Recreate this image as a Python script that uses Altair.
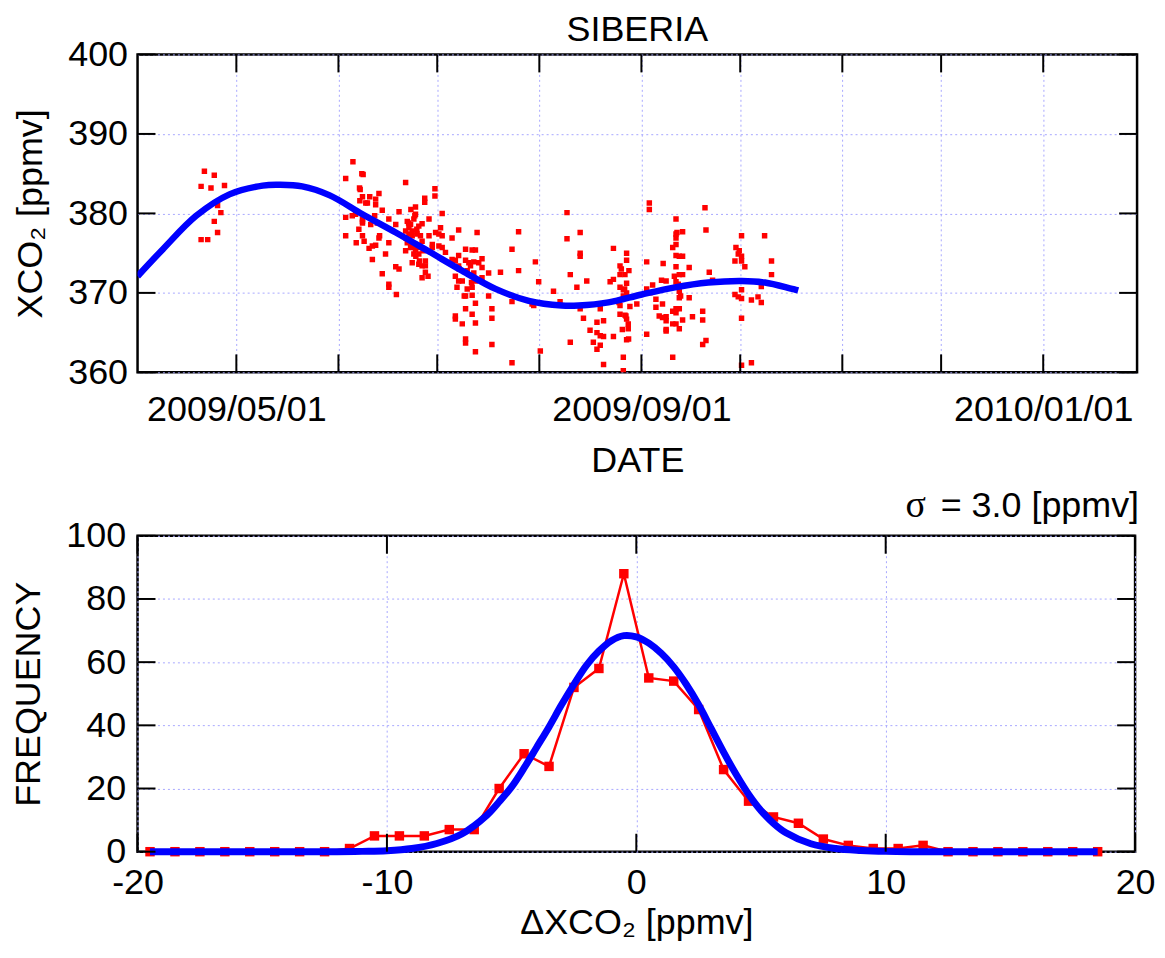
import altair as alt
import pandas as pd

# ---------------- data: top panel (XCO2 time series) ----------------
BASE_DATE = "2009-04-01"
# observation day offsets (days after 2009-04-01) and XCO2 [ppmv]
obs_day = [
    20.3, 23.3, 19.3, 22.3, 26.4, 24.3, 25.3, 23.3, 24.3, 19.3, 21.3,
    65.4, 68.1, 68.5, 63.2, 81.4, 67.4, 90.3, 73.3, 90.3, 68.3, 70.5, 67.5, 72.3,
    87.2, 87.2, 69.3, 72.3, 84.4, 74.3, 79.4, 63.2, 65.2, 66.2, 68.3, 68.3, 76.3,
    84.4, 81.9, 83.9, 88.5, 85.4, 78.4, 70.8, 72.8, 86.4, 82.4, 81.4, 67.2, 63.2,
    68.3, 68.8, 73.3, 88.5, 83.4, 82.4, 84.4, 86.4, 89.5, 66.4, 76.3, 72.3, 70.3,
    81.4, 84.4, 85.4, 89.5, 75.3, 71.3, 83.4, 85.4, 87.4, 86.4, 78.4, 79.4, 74.3,
    87.4, 86.4, 76.3, 76.3, 78.6, 82.9, 83.4, 84.9, 82.9, 81.9, 85.4, 83.9, 82.4,
    92.5, 92.0, 90.5, 91.5, 92.5, 97.5, 95.5, 103.1, 115.7, 91.5, 92.5, 93.5, 99.6,
    101.6, 102.6, 113.7, 97.5, 95.5, 96.5, 99.6, 100.6, 102.1, 104.6, 97.5, 101.1,
    104.6, 100.1, 102.1, 106.6, 110.2, 115.7, 120.8, 96.5, 98.6, 97.5, 102.6, 104.6,
    121.8, 97.0, 100.1, 101.6, 99.6, 101.6, 106.6, 113.7, 102.6, 119.8, 120.3, 99.6,
    107.6, 101.6, 96.5, 96.5, 98.6, 102.6, 107.6, 99.6, 99.6, 107.6, 102.6, 122.3,
    113.7,
    130.4, 130.4, 134.4, 134.4, 134.4, 144.5, 148.5, 148.5, 146.5, 146.5, 148.0,
    149.2, 131.4, 136.4, 143.5, 144.5, 148.5, 146.5, 147.5, 148.5, 147.5, 126.3,
    133.4, 128.3, 134.4, 140.5, 146.5, 149.5, 151.6, 135.4, 139.5, 141.5, 146.5,
    148.0, 148.5, 149.0, 149.0, 137.4, 139.5, 140.5, 141.5, 144.5, 138.4, 148.5,
    131.4, 140.5, 139.5, 147.5, 141.5, 147.5,
    155.4, 155.4, 172.3, 163.5, 165.5, 163.5, 163.5, 172.6, 163.5, 162.5, 163.5,
    165.5, 159.6, 154.6, 163.5, 167.5, 164.5, 165.5, 173.6, 174.6, 159.1, 160.5,
    163.5, 164.2, 163.5, 156.4, 154.6, 155.6, 164.5, 167.5, 164.5, 157.4, 159.4,
    157.4, 163.5, 164.5, 162.5, 171.6, 158.4, 159.4, 160.5, 160.5, 165.5, 168.5,
    171.6, 162.5, 163.5, 164.5, 160.5, 160.5, 154.6, 171.6, 172.6, 162.5, 183.4,
    181.7, 182.7, 182.4, 183.4, 181.4, 183.4, 184.4, 180.4, 183.4, 181.4, 182.4,
    183.4, 183.4, 183.4, 186.4, 186.4, 188.4, 189.4, 190.4, 192.5, 192.5, 189.4,
    83.0, 84.2, 82.3, 84.8, 85.9, 83.3, 86.7, 84.5, 87.4, 88.2, 81.5, 85.6,
    146.9, 147.9, 146.2, 148.3, 147.2, 149.1,
    163.8, 164.5, 163.0, 164.9, 163.5,
    67.6, 69.8, 72.0, 68.3, 73.5, 71.3,
    97.7, 101.4, 99.2, 103.6,
]
obs_xco2 = [
    385.3, 384.8, 383.4, 383.2, 383.5, 381.0, 380.1, 379.0, 377.6, 376.7, 376.7,
    386.5, 385.0, 384.9, 384.4, 383.9, 383.2, 383.1, 382.5, 382.2, 382.1, 382.1, 381.6, 381.8,
    381.9, 381.4, 381.3, 381.1, 380.8, 380.4, 380.2, 379.5, 379.7, 379.9, 379.3, 379.0, 379.3,
    379.9, 379.0, 379.3, 379.3, 378.4, 378.6, 378.6, 378.8, 378.7, 378.2, 377.8, 378.0, 377.2,
    377.2, 376.5, 376.9, 377.2, 377.2, 376.5, 376.1, 376.5, 376.1, 376.3, 376.3, 376.0, 375.6,
    375.3, 375.5, 374.9, 375.7, 374.9, 374.2, 373.8, 373.6, 374.0, 373.4, 373.3, 373.0, 372.4,
    372.6, 371.9, 371.1, 370.7, 369.8, 378.6, 377.8, 377.4, 375.7, 376.3, 375.7, 374.9, 377.4,
    380.0, 378.2, 377.6, 377.4, 377.2, 377.9, 376.9, 377.6, 377.7, 375.9, 375.7, 375.1, 375.5,
    375.4, 375.4, 375.5, 374.7, 374.2, 374.1, 374.1, 373.8, 373.9, 374.3, 373.4, 373.4,
    373.2, 372.8, 372.5, 372.5, 372.6, 372.8, 373.9, 372.1, 371.5, 371.5, 371.5, 371.9,
    371.4, 370.7, 370.5, 370.7, 369.6, 369.7, 369.6, 368.9, 368.7, 368.6, 368.4, 368.0,
    368.0, 367.3, 367.1, 366.7, 366.1, 366.2, 366.8, 364.2, 363.7, 363.5, 362.6, 362.7,
    361.2,
    380.1, 376.8, 377.6, 375.0, 374.6, 375.6, 375.0, 374.1, 373.4, 372.3, 372.3,
    372.8, 372.3, 371.5, 371.4, 371.7, 371.2, 370.7, 370.4, 370.0, 369.6, 370.2,
    370.7, 368.9, 368.0, 368.0, 368.4, 368.3, 368.6, 366.8, 366.3, 366.5, 367.3,
    367.2, 366.7, 366.1, 365.5, 365.3, 365.0, 364.6, 364.5, 364.5, 363.8, 364.1,
    363.8, 363.4, 362.9, 361.9, 361.0, 360.2,
    381.3, 380.5, 380.7, 379.3, 377.7, 377.4, 376.9, 377.9, 376.1, 375.7, 374.7,
    374.6, 373.7, 373.9, 373.3, 373.2, 372.3, 372.3, 372.6, 371.6, 371.6, 371.5,
    371.4, 371.1, 370.7, 371.0, 370.5, 370.0, 370.2, 369.4, 369.4, 369.2, 368.6,
    368.2, 368.0, 368.0, 367.7, 367.7, 367.1, 366.9, 366.5, 367.0, 366.6, 367.0,
    366.6, 366.1, 366.1, 365.5, 365.4, 365.2, 364.8, 363.5, 364.0, 361.9, 377.2,
    375.7, 375.3, 374.9, 374.6, 374.0, 374.0, 373.3, 371.5, 370.4, 369.8, 369.5,
    369.3, 366.8, 360.9, 361.2, 369.1, 369.5, 368.8, 377.2, 374.0, 372.3, 370.8,
    380.5, 379.7, 378.8, 378.0, 377.2, 376.3, 375.3, 374.6, 373.4, 372.1, 376.9, 374.0,
    373.0, 370.5, 368.8, 367.1, 365.4, 364.2,
    377.6, 374.6, 372.1, 369.6, 367.5,
    383.0, 381.3, 379.7, 378.8, 377.2, 375.9,
    373.0, 371.3, 369.6, 373.8,
]

# fitted seasonal curve
fit_day = [0, 7.7, 17.8, 27.9, 38.0, 43.0, 50.0, 58.2, 68.3, 78.4, 88.5, 98.5,
           108.7, 118.8, 128.8, 133.9, 143.0, 153.1, 163.2, 173.3, 183.4, 190.5, 200.6]
fit_xco2 = [372.1, 375.5, 379.7, 382.4, 383.5, 383.6, 383.4, 382.3, 379.9, 377.6,
            375.2, 372.8, 370.5, 369.0, 368.4, 368.4, 368.8, 369.8, 370.7, 371.3,
            371.5, 371.3, 370.3]

month_ticks = ["2009-05-01", "2009-06-01", "2009-07-01", "2009-08-01", "2009-09-01",
               "2009-10-01", "2009-11-01", "2009-12-01", "2010-01-01"]
xco2_ticks = [360, 370, 380, 390, 400]

# ---------------- data: bottom panel (histogram of residuals) ----------------
hist_dx = [-19.5, -18.5, -17.5, -16.5, -15.5, -14.5, -13.5, -12.5, -11.5, -10.5,
           -9.5, -8.5, -7.5, -6.5, -5.5, -4.5, -3.5, -2.5, -1.5, -0.5,
           0.5, 1.5, 2.5, 3.5, 4.5, 5.5, 6.5, 7.5, 8.5, 9.5,
           10.5, 11.5, 12.5, 13.5, 14.5, 15.5, 16.5, 17.5, 18.5]
hist_count = [0, 0, 0, 0, 0, 0, 0, 0, 1, 5,
              5, 5, 7, 7, 20, 31, 27, 52, 58, 88,
              55, 54, 45, 26, 16, 11, 9, 4, 2, 1,
              1, 2, 0, 0, 0, 0, 0, 0, 0]

gauss_dx = [-19.5, -12, -11, -10, -9, -8, -7, -6, -5.5, -5, -4.5, -4, -3.5, -3, -2.5, -2,
            -1.5, -1, -0.5, 0, 0.5, 1, 1.5, 2, 2.5, 3, 3.5, 4, 4.5, 5, 5.5, 6,
            7, 8, 9, 10, 11, 18.5]
gauss_freq = [0, 0, 0.1, 0.3, 1.0, 2.6, 5.6, 11.5, 15.8, 20.5, 26.5, 33, 39.5, 46.5, 53, 59,
              63.5, 66.8, 68.4, 68, 66, 62.8, 58.5, 53, 46.5, 39, 31.5, 24.5, 18.2, 13, 9, 6,
              2.5, 1.0, 0.4, 0.1, 0, 0]

freq_ticks = [0, 20, 40, 60, 80, 100]
dx_ticks = [-20, -10, 0, 10, 20]

title_top = ["SIBERIA"]
sigma_sym = ["σ"]
sigma_txt = ["= 3.0 [ppmv]"]

# ---------------- helpers ----------------
base = pd.Timestamp(BASE_DATE)


def to_date(days):
    return [(base + pd.Timedelta(days=d)).strftime("%Y-%m-%dT%H:%M:%S") for d in days]


FONT = "Liberation Sans"
FS = 36
RED = "#ff0000"
BLUE = "#0000ff"
TICK = 18

W1, H1 = 1003, 319
W2, H2 = 1001, 317

obs = pd.DataFrame({"date": to_date(obs_day), "xco2": obs_xco2})
fit = pd.DataFrame({"date": to_date(fit_day), "xco2": fit_xco2})
mt = pd.DataFrame({"date": [m + "T00:00:00" for m in month_ticks]})
yt = pd.DataFrame({"v": xco2_ticks})

xscale = alt.Scale(domain=[alt.DateTime(year=2009, month=4, date=1),
                           alt.DateTime(year=2010, month=1, date=29, hours=12)])
yscale = alt.Scale(domain=[360, 400])

x_axis = alt.Axis(
    values=[alt.DateTime(year=int(m[:4]), month=int(m[5:7]), date=1) for m in month_ticks],
    labelExpr="(month(datum.value) % 4 == 0) ? timeFormat(datum.value, '%Y/%m/%d') : ''",
    labelOverlap=False, labelLimit=400, labelPadding=20, titlePadding=16, title="DATE",
)
y_axis = alt.Axis(values=xco2_ticks, labelPadding=10, titlePadding=18,
                  title="XCO₂ [ppmv]")

X = alt.X("date:T", scale=xscale, axis=x_axis)
Y = alt.Y("xco2:Q", scale=yscale, axis=y_axis)

pts = alt.Chart(obs).mark_square(color=RED, size=30, opacity=1, clip=True).encode(x=X, y=Y)
curve = alt.Chart(fit).mark_line(color=BLUE, strokeWidth=6.5, interpolate="catmull-rom",
                                 clip=True).encode(x="date:T", y="xco2:Q")
xt_bot = alt.Chart(mt).mark_rule(color="black", strokeWidth=2).encode(
    x="date:T", y=alt.value(H1), y2=alt.value(H1 - TICK))
xt_top = alt.Chart(mt).mark_rule(color="black", strokeWidth=2).encode(
    x="date:T", y=alt.value(0), y2=alt.value(TICK))
yt_l = alt.Chart(yt).mark_rule(color="black", strokeWidth=2).encode(
    y=alt.Y("v:Q"), x=alt.value(0), x2=alt.value(TICK))
yt_r = alt.Chart(yt).mark_rule(color="black", strokeWidth=2).encode(
    y=alt.Y("v:Q"), x=alt.value(W1 - TICK), x2=alt.value(W1))
ttl = alt.Chart(pd.DataFrame({"t": title_top})).mark_text(
    font=FONT, fontSize=FS, color="black", align="center", baseline="alphabetic"
).encode(text="t:N", x=alt.value(W1 / 2), y=alt.value(-14))

top = alt.layer(pts, curve, xt_bot, xt_top, yt_l, yt_r, ttl).properties(
    width=W1, height=H1)

# bottom
hist = pd.DataFrame({"dx": hist_dx, "n": hist_count})
gauss = pd.DataFrame({"dx": gauss_dx, "n": gauss_freq})
xt2 = pd.DataFrame({"v": dx_ticks})
yt2 = pd.DataFrame({"v": freq_ticks})

X2 = alt.X("dx:Q", scale=alt.Scale(domain=[-20, 20], nice=False),
           axis=alt.Axis(values=dx_ticks, labelPadding=14, titlePadding=5,
                         labelExpr="replace(datum.label, '−', '-')",
                         title="ΔXCO₂ [ppmv]"))
Y2 = alt.Y("n:Q", scale=alt.Scale(domain=[0, 100], nice=False),
           axis=alt.Axis(values=freq_ticks, labelPadding=12, titlePadding=18,
                         title="FREQUENCY"))

hline = alt.Chart(hist).mark_line(color=RED, strokeWidth=2.5).encode(x=X2, y=Y2)
hpts = alt.Chart(hist).mark_square(color=RED, size=90, opacity=1).encode(x="dx:Q", y="n:Q")
gline = alt.Chart(gauss).mark_line(color=BLUE, strokeWidth=7, interpolate="catmull-rom").encode(
    x="dx:Q", y="n:Q")
xb_bot = alt.Chart(xt2).mark_rule(color="black", strokeWidth=2).encode(
    x="v:Q", y=alt.value(H2), y2=alt.value(H2 - TICK))
xb_top = alt.Chart(xt2).mark_rule(color="black", strokeWidth=2).encode(
    x="v:Q", y=alt.value(0), y2=alt.value(TICK))
yb_l = alt.Chart(yt2).mark_rule(color="black", strokeWidth=2).encode(
    y="v:Q", x=alt.value(0), x2=alt.value(TICK))
yb_r = alt.Chart(yt2).mark_rule(color="black", strokeWidth=2).encode(
    y="v:Q", x=alt.value(W2 - TICK), x2=alt.value(W2))
sig_a = alt.Chart(pd.DataFrame({"t": sigma_sym})).mark_text(
    font="Liberation Serif", fontSize=FS + 2, color="black", align="right",
    baseline="alphabetic"
).encode(text="t:N", x=alt.value(W2 - 210), y=alt.value(-19))
sig_b = alt.Chart(pd.DataFrame({"t": sigma_txt})).mark_text(
    font=FONT, fontSize=FS, color="black", align="right", baseline="alphabetic"
).encode(text="t:N", x=alt.value(W2 + 4), y=alt.value(-19))

bottom = alt.layer(hline, hpts, gline, xb_bot, xb_top, yb_l, yb_r, sig_a, sig_b).properties(
    width=W2, height=H2)

chart = alt.vconcat(top, bottom, spacing=5).properties(
    padding={"left": 1, "top": 0, "right": 0, "bottom": 0},
    background="white",
).configure_view(
    stroke="black", strokeWidth=2.5
).configure_axis(
    domain=False, ticks=False, tickSize=0, labelFlush=False,
    grid=True, gridColor="#a8a8ff", gridDash=[2, 3], gridWidth=1, gridOpacity=1,
    labelFont=FONT, labelFontSize=FS, labelColor="black",
    titleFont=FONT, titleFontSize=FS, titleFontWeight="normal", titleColor="black",
)

chart.save("out.html", embed_options={"renderer": "svg", "actions": False})
